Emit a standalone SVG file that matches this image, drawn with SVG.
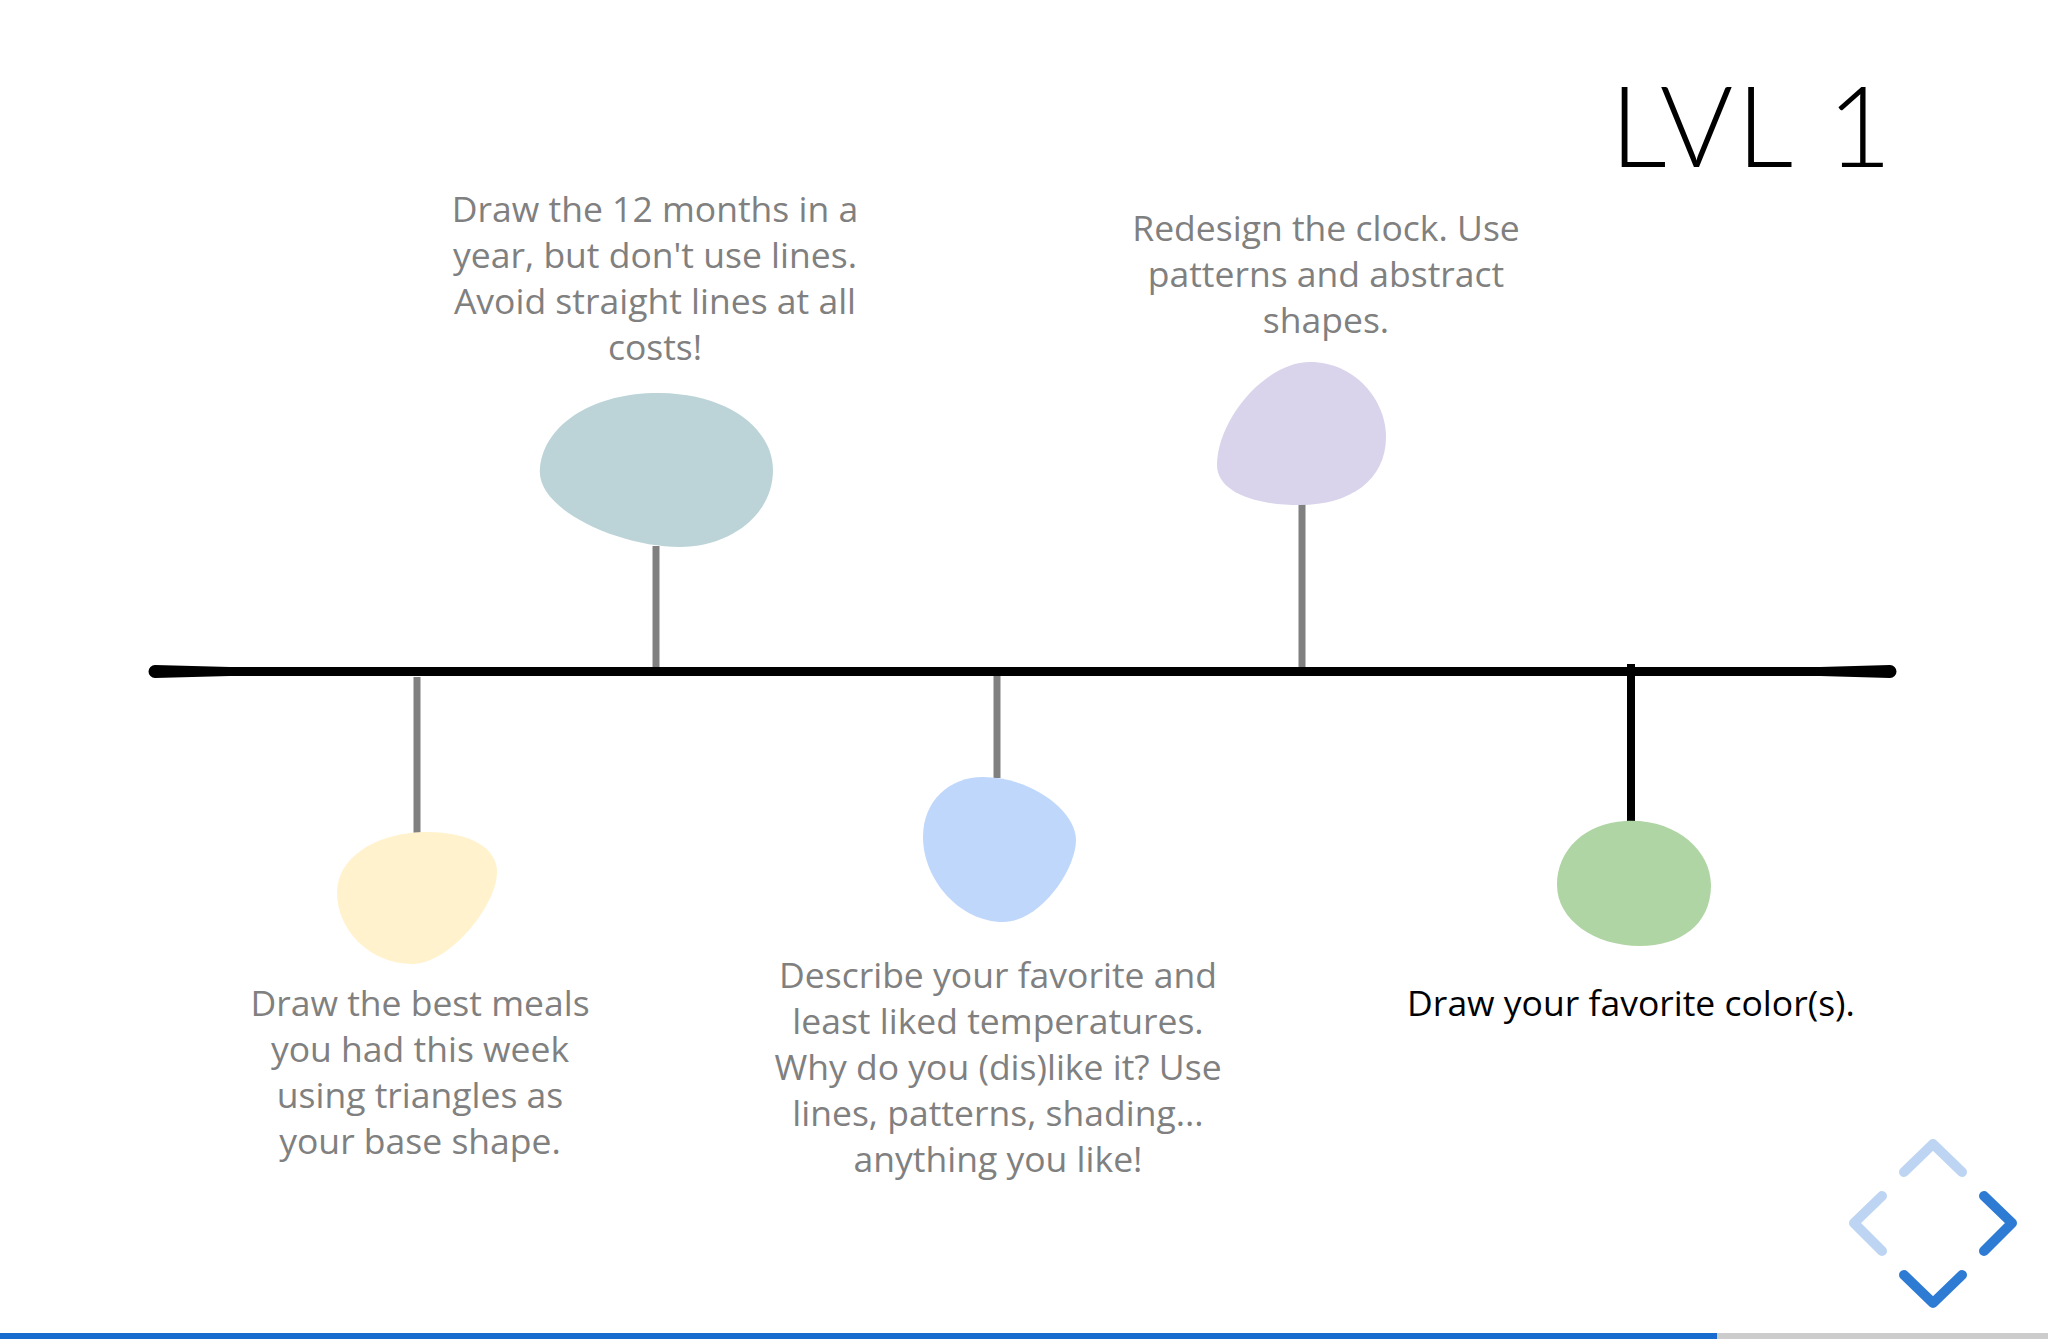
<svg xmlns="http://www.w3.org/2000/svg" width="2048" height="1339" viewBox="0 0 2048 1339">
<style>
.t{font-family:"Open Sans","Liberation Sans",sans-serif;font-size:35.5px;fill:#808080;text-anchor:middle}
.tb{fill:#000}
.stem{stroke:#808080;stroke-width:7;fill:none}
.chev{fill:none;stroke-width:10;stroke-linecap:round;stroke-linejoin:round}
</style>
<rect width="2048" height="1339" fill="#fff"/>
<text x="1610" y="167" font-family="Lato, 'Noto Sans', sans-serif" font-weight="300" font-size="112" textLength="282" lengthAdjust="spacing" fill="#000">LVL 1</text>
<g id="connectors">
<path d="M155 665 L230 667 L1820 667 L1890 665 A6.5 6.5 0 0 1 1890 678 L1820 676 L230 676 L155 678 A6.5 6.5 0 0 1 155 665 Z" fill="#000"/>
<line class="stem" x1="417" y1="677" x2="417" y2="834"/>
<line class="stem" x1="656" y1="546" x2="656" y2="667"/>
<line class="stem" x1="997" y1="676" x2="997" y2="778"/>
<line class="stem" x1="1302" y1="504" x2="1302" y2="667"/>
<line x1="1631" y1="664" x2="1631" y2="823" stroke="#000" stroke-width="8"/>
</g>
<g id="node-months">
<path d="M540 468 C545 420 600 392 660 393 C730 394 773 430 773 470 C773 515 730 547 680 547 C620 547 535 510 540 468 Z" fill="#bcd4d8"/>
<text class="t"><tspan x="655" y="222">Draw the 12 months in a</tspan><tspan x="655" y="268">year, but don't use lines.</tspan><tspan x="655" y="314">Avoid straight lines at all</tspan><tspan x="655" y="360">costs!</tspan></text>
</g>
<g id="node-clock">
<path d="M1310 362 C1355 362 1386 400 1386 437 C1386 480 1350 505 1300 505 C1250 505 1217 490 1217 465 C1217 420 1265 362 1310 362 Z" fill="#d9d4eb"/>
<text class="t"><tspan x="1326" y="241">Redesign the clock. Use</tspan><tspan x="1326" y="287">patterns and abstract</tspan><tspan x="1326" y="333">shapes.</tspan></text>
</g>
<g id="node-meals">
<path d="M427 832 C470 832 497 848 497 872 C497 905 450 964 412 964 C370 964 337 930 337 893 C337 855 380 832 427 832 Z" fill="#fff2cc"/>
<text class="t"><tspan x="420" y="1016">Draw the best meals</tspan><tspan x="420" y="1062">you had this week</tspan><tspan x="420" y="1108">using triangles as</tspan><tspan x="420" y="1154">your base shape.</tspan></text>
</g>
<g id="node-temps">
<path d="M983 777 C1030 777 1076 810 1076 840 C1076 870 1040 922 1003 922 C960 922 923 880 923 837 C923 800 950 777 983 777 Z" fill="#c0d7fc"/>
<text class="t"><tspan x="998" y="988">Describe your favorite and</tspan><tspan x="998" y="1034">least liked temperatures.</tspan><tspan x="998" y="1080">Why do you (dis)like it? Use</tspan><tspan x="998" y="1126">lines, patterns, shading...</tspan><tspan x="998" y="1172">anything you like!</tspan></text>
</g>
<g id="node-color">
<path d="M1625 821 C1675 818 1711 850 1711 885 C1711 925 1680 946 1640 946 C1595 946 1557 920 1557 885 C1557 850 1585 823 1625 821 Z" fill="#b0d5a4"/>
<text class="t tb" x="1631" y="1016">Draw your favorite color(s).</text>
</g>
<g id="nav">
<polyline class="chev" stroke="#bdd5f2" points="1904,1172 1933,1144 1962,1172"/>
<polyline class="chev" stroke="#bdd5f2" points="1882,1196 1854,1223 1882,1251"/>
<polyline class="chev" stroke="#2e7bd3" points="1984,1196 2012,1223 1984,1251"/>
<polyline class="chev" stroke="#2e7bd3" points="1904,1275 1933,1303 1962,1275"/>
</g>
<rect x="0" y="1333" width="2048" height="6" fill="#cccccc"/>
<rect x="0" y="1333" width="1717" height="6" fill="#196ccf"/>
</svg>
